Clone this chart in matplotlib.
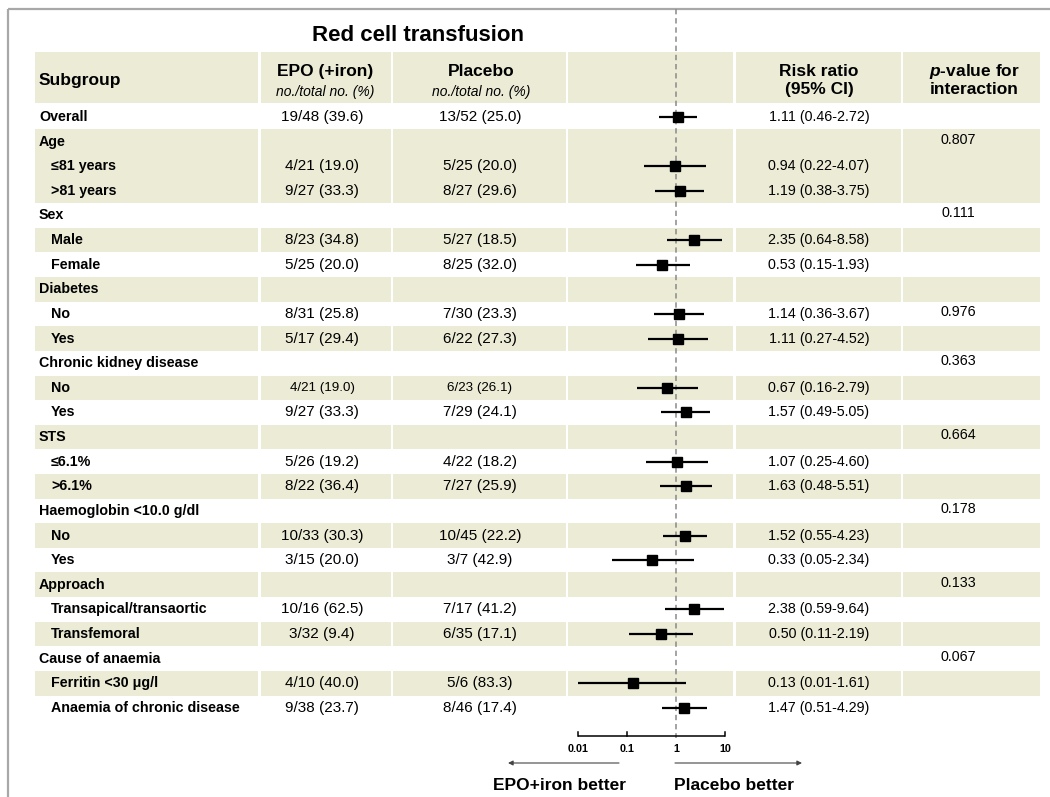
import matplotlib
matplotlib.use("Agg")
import matplotlib.pyplot as plt
from matplotlib.patches import Rectangle
import numpy as np

plt.rcParams["font.family"] = ["Liberation Sans", "DejaVu Sans"]
plt.rcParams["mathtext.fontset"] = "custom"
plt.rcParams["mathtext.it"] = "Liberation Sans:italic:bold"
plt.rcParams["mathtext.rm"] = "Liberation Sans:bold"
plt.rcParams["mathtext.bf"] = "Liberation Sans:bold"

nan = np.nan

# ---- table contents ----
subgroups = ["Overall", "Age", "≤81 years", ">81 years", "Sex", "Male", "Female",
             "Diabetes", "No", "Yes", "Chronic kidney disease", "No", "Yes",
             "STS", "≤6.1%", ">6.1%", "Haemoglobin <10.0 g/dl", "No", "Yes",
             "Approach", "Transapical/transaortic", "Transfemoral",
             "Cause of anaemia", "Ferritin <30 μg/l", "Anaemia of chronic disease"]
indent = [0, 0, 1, 1, 0, 1, 1, 0, 1, 1, 0, 1, 1, 0, 1, 1, 0, 1, 1, 0, 1, 1, 0, 1, 1]
epo_counts = ["19/48 (39.6)", "", "4/21 (19.0)", "9/27 (33.3)", "", "8/23 (34.8)",
              "5/25 (20.0)", "", "8/31 (25.8)", "5/17 (29.4)", "", "4/21 (19.0)",
              "9/27 (33.3)", "", "5/26 (19.2)", "8/22 (36.4)", "", "10/33 (30.3)",
              "3/15 (20.0)", "", "10/16 (62.5)", "3/32 (9.4)", "", "4/10 (40.0)",
              "9/38 (23.7)"]
placebo_counts = ["13/52 (25.0)", "", "5/25 (20.0)", "8/27 (29.6)", "", "5/27 (18.5)",
                  "8/25 (32.0)", "", "7/30 (23.3)", "6/22 (27.3)", "", "6/23 (26.1)",
                  "7/29 (24.1)", "", "4/22 (18.2)", "7/27 (25.9)", "", "10/45 (22.2)",
                  "3/7 (42.9)", "", "7/17 (41.2)", "6/35 (17.1)", "", "5/6 (83.3)",
                  "8/46 (17.4)"]
risk_ratio = [1.11, nan, 0.94, 1.19, nan, 2.35, 0.53, nan, 1.14, 1.11, nan, 0.67, 1.57,
              nan, 1.07, 1.63, nan, 1.52, 0.33, nan, 2.38, 0.50, nan, 0.13, 1.47]
ci_low = [0.46, nan, 0.22, 0.38, nan, 0.64, 0.15, nan, 0.36, 0.27, nan, 0.16, 0.49,
          nan, 0.25, 0.48, nan, 0.55, 0.05, nan, 0.59, 0.11, nan, 0.01, 0.51]
ci_high = [2.72, nan, 4.07, 3.75, nan, 8.58, 1.93, nan, 3.67, 4.52, nan, 2.79, 5.05,
           nan, 4.60, 5.51, nan, 4.23, 2.34, nan, 9.64, 2.19, nan, 1.61, 4.29]
p_interaction = ["", "0.807", "", "", "0.111", "", "", "", "0.976", "", "0.363", "", "",
                 "0.664", "", "", "0.178", "", "", "0.133", "", "", "0.067", "", ""]
shaded = [0, 1, 1, 1, 0, 1, 0, 1, 0, 1, 0, 1, 0, 1, 0, 1, 0, 1, 0, 1, 0, 1, 0, 1, 0]
axis_ticks = [0.01, 0.1, 1, 10]
axis_tick_labels = ["0.01", "0.1", "1", "10"]

# ---- layout (pixels) ----
W, H = 1050, 797
band = "#ECEBD6"
cols = [(35, 258), (261, 391), (393, 566), (568, 733), (736, 901), (903, 1040)]
row0, pitch = 117.0, 24.62
rows_y = row0 + pitch * np.arange(len(subgroups))

fig = plt.figure(figsize=(W / 100, H / 100), dpi=100)
base = fig.add_axes([0, 0, 1, 1])
base.set_xlim(0, W)
base.set_ylim(H, 0)
base.axis("off")

# outer frame (top and left)
base.plot([8, W], [9, 9], color="#a8a8a8", lw=1.6, solid_capstyle="butt")
base.plot([8, 8], [9, H], color="#a8a8a8", lw=1.6, solid_capstyle="butt")

# title
base.text(418, 35, "Red cell transfusion", ha="center", va="center",
          fontsize=16, fontweight="bold")

# header band
for x0, x1 in cols:
    base.add_patch(Rectangle((x0, 52), x1 - x0, 51, color=band, lw=0))

# row bands
for i, s in enumerate(shaded):
    if s:
        for x0, x1 in cols:
            base.add_patch(Rectangle((x0, rows_y[i] - pitch / 2), x1 - x0, pitch,
                                     color=band, lw=0))

# header text
base.text(39, 80, "Subgroup", ha="left", va="center", fontsize=12.5, fontweight="bold")
base.text(325, 71, "EPO (+iron)", ha="center", va="center", fontsize=12.5, fontweight="bold")
base.text(325, 92, "no./total no. (%)", ha="center", va="center", fontsize=10,
          style="italic")
base.text(481, 71, "Placebo", ha="center", va="center", fontsize=12.5, fontweight="bold")
base.text(481, 92, "no./total no. (%)", ha="center", va="center", fontsize=10,
          style="italic")
base.text(819, 71, "Risk ratio", ha="center", va="center", fontsize=12.5, fontweight="bold")
base.text(819, 89, "(95% CI)", ha="center", va="center", fontsize=12.5, fontweight="bold")
base.text(974, 71, r"$\mathit{p}$-value for", ha="center", va="center", fontsize=12.5,
          fontweight="bold")
base.text(974, 89, "interaction", ha="center", va="center", fontsize=12.5,
          fontweight="bold")

# table rows
small_rows = {11}
for i, y in enumerate(rows_y):
    x = 39 if indent[i] == 0 else 51
    base.text(x, y, subgroups[i], ha="left", va="center", fontsize=10.3,
              fontweight="bold")
    fs = 9.6 if i in small_rows else 11
    if epo_counts[i]:
        base.text(322, y, epo_counts[i], ha="center", va="center", fontsize=fs)
    if placebo_counts[i]:
        base.text(480, y, placebo_counts[i], ha="center", va="center", fontsize=fs)
    if not np.isnan(risk_ratio[i]):
        label = f"{risk_ratio[i]:.2f} ({ci_low[i]:.2f}-{ci_high[i]:.2f})"
        base.text(819, y, label, ha="center", va="center", fontsize=10.3)
    if p_interaction[i]:
        base.text(958, y - 2, p_interaction[i], ha="center", va="center", fontsize=10.3)

# ---- forest panel (log scale) ----
px_per_decade = 49.0
x_left, x_right, x_one = 568, 733, 676
fax = fig.add_axes([x_left / W, 0, (x_right - x_left) / W, 1])
fax.set_xscale("log")
fax.set_xlim(10 ** ((x_left - x_one) / px_per_decade),
             10 ** ((x_right - x_one) / px_per_decade))
fax.set_ylim(H, 0)
fax.patch.set_alpha(0)
fax.axis("off")

# reference line at RR = 1
fax.plot([1, 1], [9, 738], color="#8a8a8a", lw=1.1, ls=(0, (3.5, 2.5)), zorder=1)

for i, y in enumerate(rows_y):
    if np.isnan(risk_ratio[i]):
        continue
    fax.plot([ci_low[i], ci_high[i]], [y, y], color="black", lw=1.6,
             solid_capstyle="butt", zorder=3)
    fax.plot([risk_ratio[i]], [y], marker="s", ms=7.6, color="black", zorder=4)

# x axis
axis_y = 736
fax.plot([axis_ticks[0], axis_ticks[-1]], [axis_y, axis_y], color="black", lw=1.1,
         clip_on=False, solid_capstyle="butt")
for t, lab in zip(axis_ticks, axis_tick_labels):
    if t != 1:
        fax.plot([t, t], [axis_y, axis_y - 4], color="black", lw=1.1, clip_on=False)
    fax.text(t, 749, lab, ha="center", va="center", fontsize=7.8, fontweight="bold",
             clip_on=False)

# direction arrows and labels
base.annotate("", xy=(508, 763), xytext=(619, 763),
              arrowprops=dict(arrowstyle="-|>", lw=0.8, color="#444444",
                              mutation_scale=7, shrinkA=0, shrinkB=0))
base.annotate("", xy=(802, 763), xytext=(675, 763),
              arrowprops=dict(arrowstyle="-|>", lw=0.8, color="#444444",
                              mutation_scale=7, shrinkA=0, shrinkB=0))
base.text(626, 785, "EPO+iron better", ha="right", va="center", fontsize=12.5,
          fontweight="bold")
base.text(674, 785, "Placebo better", ha="left", va="center", fontsize=12.5,
          fontweight="bold")

fig.savefig("out.png", dpi=100, facecolor="white")
